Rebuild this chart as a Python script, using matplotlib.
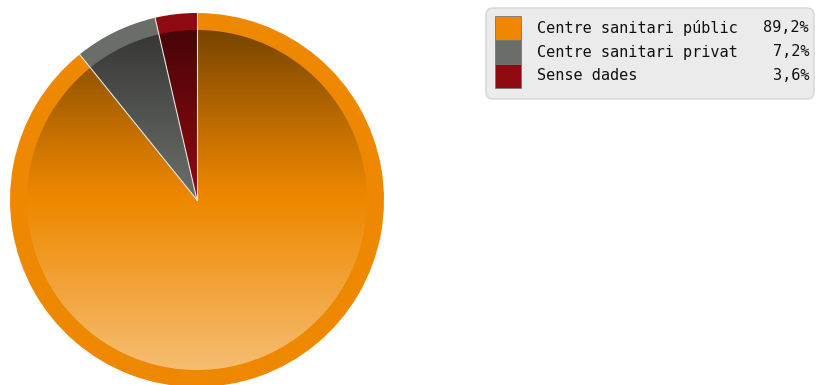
import numpy as np
import matplotlib.pyplot as plt
from matplotlib.patches import FancyBboxPatch, Circle

labels = ["Centre sanitari públic", "Centre sanitari privat", "Sense dades"]
values = [89.2, 7.2, 3.6]
pct_text = ["89,2%", "7,2%", "3,6%"]
colors = ["#EE8800", "#6B6D68", "#8E0A10"]

W, H = 816, 385
fig = plt.figure(figsize=(W / 100, H / 100), dpi=100)
ax = fig.add_axes([0, 0, 1, 1])

cx, cy = 197, H - 200
R, r = 187, 170

# outer rim (flat colours)
ax.pie(values, colors=colors, startangle=90, counterclock=False,
       center=(cx, cy), radius=R, frame=True,
       wedgeprops=dict(linewidth=0))
# inner part
ax.pie(values, colors=colors, startangle=90, counterclock=False,
       center=(cx, cy), radius=r, frame=True,
       wedgeprops=dict(linewidth=0))
ax.set_xlim(0, W)
ax.set_ylim(0, H)
ax.set_aspect("equal")
ax.axis("off")

# vertical shading over inner part: dark on top, light at bottom
n = 400
ys = np.linspace(cy + r, cy - r, n)
grad = np.zeros((n, 1, 4))
top = ys >= cy
t_top = (ys[top] - cy) / r
grad[top, 0, :3] = 0.0
grad[top, 0, 3] = 0.5 * t_top ** 1.1
t_bot = (cy - ys[~top]) / r
grad[~top, 0, :3] = 1.0
grad[~top, 0, 3] = 0.45 * t_bot
im = ax.imshow(grad, extent=(cx - r, cx + r, cy - r, cy + r),
               aspect="auto", zorder=3, interpolation="bilinear")
im.set_clip_path(Circle((cx, cy), r, transform=ax.transData))
ax.set_xlim(0, W)
ax.set_ylim(0, H)

# separators between slices
ang = 90 - np.cumsum([0] + values) / 100 * 360
for a in ang[:-1]:
    th = np.deg2rad(a)
    ax.plot([cx, cx + R * np.cos(th)], [cy, cy + R * np.sin(th)],
            color="#e6e6e6", lw=0.8, zorder=4)

# legend
box = FancyBboxPatch((486, H - 99), 328, 91,
                     boxstyle="round,pad=0,rounding_size=7",
                     fc="#EBEBEB", ec="#D4D4D4", lw=1, zorder=5)
ax.add_patch(box)
for i, (lab, pc, col) in enumerate(zip(labels, pct_text, colors)):
    yc = H - (28 + i * 24)
    ax.add_patch(plt.Rectangle((495, yc - 12), 26, 24, fc=col,
                               ec="#777777", lw=0.6, zorder=6))
    ax.text(537, yc, lab, fontsize=11, va="center", ha="left",
            family="DejaVu Sans Mono", color="#111111", zorder=6)
    ax.text(809, yc, pc, fontsize=11, va="center", ha="right",
            family="DejaVu Sans Mono", color="#111111", zorder=6)

fig.savefig("out.png", dpi=100)
